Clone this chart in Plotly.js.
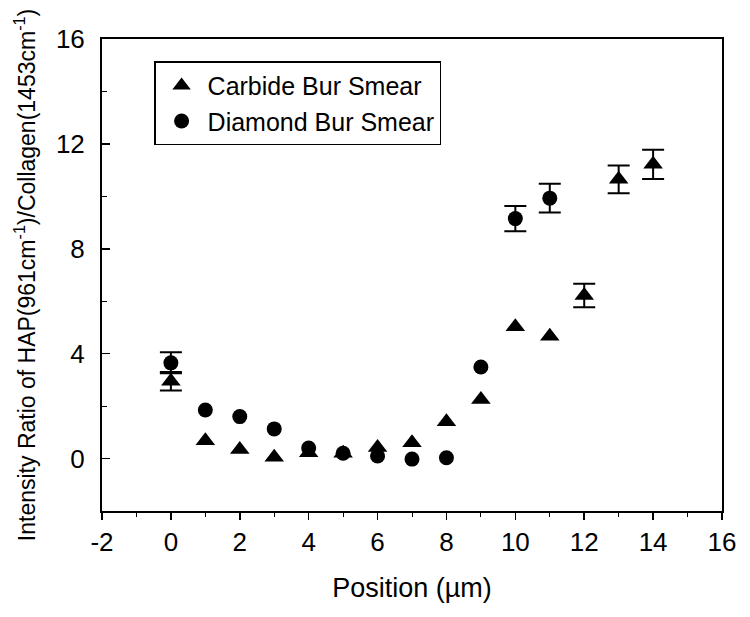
<!DOCTYPE html>
<html>
<head>
<meta charset="utf-8">
<script src="https://cdn.plot.ly/plotly-3.0.1.min.js"></script>
<style>html,body{margin:0;padding:0;background:#fff;}#chart{width:750px;height:617px;}</style>
</head>
<body>
<div id="chart"></div>
<script>
const positions = [0, 1, 2, 3, 4, 5, 6, 7, 8, 9, 10, 11, 12, 13, 14];
const carbideValues = [2.95, 0.68, 0.35, 0.05, 0.22, 0.2, 0.42, 0.6, 1.4, 2.25, 5.03, 4.66, 6.22, 10.65, 11.22];
const diamondPositions = [0, 1, 2, 3, 4, 5, 6, 7, 8, 9, 10, 11];
const diamondValues = [3.65, 1.85, 1.6, 1.13, 0.4, 0.2, 0.1, -0.02, 0.03, 3.49, 9.15, 9.93];
// error bars (only the points that show them)
const carbideErrPositions = [0, 12, 13, 14];
const carbideErrValues = [2.95, 6.22, 10.65, 11.22];
const carbideErrors = [0.35, 0.45, 0.53, 0.56];
const diamondErrPositions = [0, 10, 11];
const diamondErrValues = [3.65, 9.15, 9.93];
const diamondErrors = [0.4, 0.48, 0.55];
const seriesNames = ["Carbide Bur Smear", "Diamond Bur Smear"];
const xTickVals = [-2, 0, 2, 4, 6, 8, 10, 12, 14, 16];
const xTickText = ["-2", "0", "2", "4", "6", "8", "10", "12", "14", "16"];
const xTitle = "Position (µm)";
const yTitle = "Intensity Ratio of HAP(961cm<sup>-1</sup>)/Collagen(1453cm<sup>-1</sup>)";

const FONT = "Liberation Sans, Arial, sans-serif";
const errStyle = {type: "data", visible: true, color: "#000", thickness: 2, width: 11};

const traces = [
  {
    x: carbideErrPositions, y: carbideErrValues, type: "scatter", mode: "markers", showlegend: false,
    marker: {size: 1, opacity: 0}, error_y: Object.assign({array: carbideErrors}, errStyle)
  },
  {
    x: diamondErrPositions, y: diamondErrValues, type: "scatter", mode: "markers", showlegend: false,
    marker: {size: 1, opacity: 0}, error_y: Object.assign({array: diamondErrors}, errStyle)
  },
  {
    x: positions, y: carbideValues, name: seriesNames[0], type: "scatter", mode: "markers",
    marker: {symbol: "triangle-up", size: 17, color: "#000"}
  },
  {
    x: diamondPositions, y: diamondValues, name: seriesNames[1], type: "scatter", mode: "markers",
    marker: {symbol: "circle", size: 15, color: "#000"}
  }
];

const layout = {
  width: 750, height: 617,
  margin: {l: 102, r: 28, t: 39, b: 106},
  paper_bgcolor: "#fff", plot_bgcolor: "#fff",
  font: {family: FONT, color: "#000", size: 24},
  showlegend: true,
  legend: {
    x: 0.084, y: 0.953, xanchor: "left", yanchor: "top",
    bordercolor: "#000", borderwidth: 1.5, bgcolor: "#fff",
    font: {family: FONT, size: 25, color: "#000"},
    itemwidth: 42, tracegroupgap: 0
  },
  xaxis: {
    range: [-2, 16], tickmode: "array", tickvals: xTickVals, ticktext: xTickText,
    showgrid: false, zeroline: false,
    showline: true, linecolor: "#000", linewidth: 2, mirror: true,
    ticks: "outside", ticklen: 7, tickwidth: 1.5, tickcolor: "#000",
    minor: {dtick: 1, tick0: 0, ticks: "outside", ticklen: 4, tickwidth: 1, tickcolor: "#000"},
    tickfont: {family: FONT, size: 26, color: "#000"},
    title: {text: xTitle, font: {family: FONT, size: 27, color: "#000"}, standoff: 22}
  },
  yaxis: {
    range: [-2, 16], dtick: 4, tick0: 0,
    showgrid: false, zeroline: false,
    showline: true, linecolor: "#000", linewidth: 2, mirror: true,
    ticks: "inside", ticklen: 8, tickwidth: 1.5, tickcolor: "#000",
    minor: {dtick: 2, ticks: "inside", ticklen: 5, tickwidth: 1, tickcolor: "#000"},
    ticklabelstandoff: 10,
    tickfont: {family: FONT, size: 26, color: "#000"},
    title: {text: yTitle, font: {family: FONT, size: 23, color: "#000"}, standoff: 14}
  }
};

Plotly.newPlot("chart", traces, layout, {displayModeBar: false, staticPlot: true});
</script>
</body>
</html>
